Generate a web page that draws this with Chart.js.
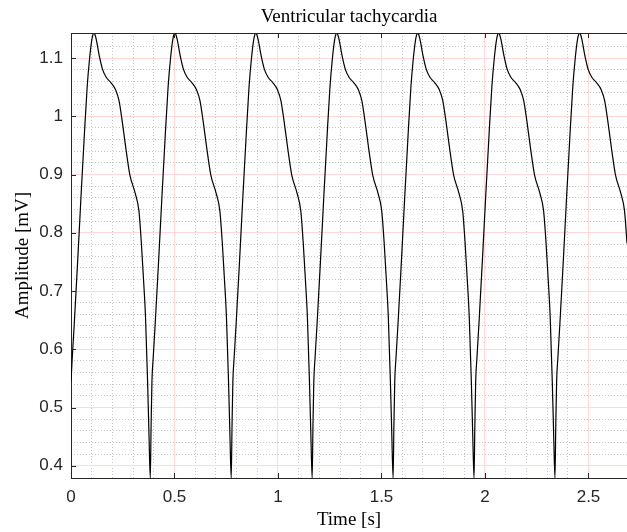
<!DOCTYPE html>
<html>
<head>
  <title>Ventricular tachycardia</title>
  <script src="https://cdn.jsdelivr.net/npm/chart.js"></script>
  <style>
    body {
      margin: 0;
      background: #fff;
    }
  </style>
</head>
<body>
  <canvas id="ecgChart" width="627" height="532"></canvas>

  <script>
    // Time [s], one line per beat
    const time = [
      0.000, 0.006, 0.016, 0.032, 0.048, 0.064, 0.078, 0.090, 0.100, 0.106, 0.111, 0.116, 0.122, 0.136, 0.152, 0.170, 0.192, 0.216, 0.232, 0.248, 0.265, 0.284, 0.310, 0.328, 0.340, 0.350, 0.360, 0.370, 0.377,
      0.383, 0.387, 0.391, 0.397, 0.407, 0.423, 0.439, 0.455, 0.469, 0.481, 0.491, 0.497, 0.502, 0.507, 0.513, 0.527, 0.543, 0.561, 0.583, 0.607, 0.623, 0.639, 0.656, 0.675, 0.701, 0.719, 0.731, 0.741, 0.751, 0.761, 0.768,
      0.774, 0.778, 0.782, 0.788, 0.798, 0.814, 0.830, 0.846, 0.860, 0.872, 0.882, 0.888, 0.893, 0.898, 0.904, 0.918, 0.934, 0.952, 0.974, 0.998, 1.014, 1.030, 1.047, 1.066, 1.092, 1.110, 1.122, 1.132, 1.142, 1.152, 1.159,
      1.165, 1.169, 1.173, 1.179, 1.189, 1.205, 1.221, 1.237, 1.251, 1.263, 1.273, 1.279, 1.284, 1.289, 1.295, 1.309, 1.325, 1.343, 1.365, 1.389, 1.405, 1.421, 1.438, 1.457, 1.483, 1.501, 1.513, 1.523, 1.533, 1.543, 1.550,
      1.556, 1.560, 1.564, 1.570, 1.580, 1.596, 1.612, 1.628, 1.642, 1.654, 1.664, 1.670, 1.675, 1.680, 1.686, 1.700, 1.716, 1.734, 1.756, 1.780, 1.796, 1.812, 1.829, 1.848, 1.874, 1.892, 1.904, 1.914, 1.924, 1.934, 1.941,
      1.947, 1.951, 1.955, 1.961, 1.971, 1.987, 2.003, 2.019, 2.033, 2.045, 2.055, 2.061, 2.066, 2.071, 2.077, 2.091, 2.107, 2.125, 2.147, 2.171, 2.187, 2.203, 2.220, 2.239, 2.265, 2.283, 2.295, 2.305, 2.315, 2.325, 2.332,
      2.338, 2.342, 2.346, 2.352, 2.362, 2.378, 2.394, 2.410, 2.424, 2.436, 2.446, 2.452, 2.457, 2.462, 2.468, 2.482, 2.498, 2.516, 2.538, 2.562, 2.578, 2.594, 2.611, 2.630, 2.656, 2.674, 2.686
    ];

    // Amplitude [mV], same layout as time
    const amplitude = [
      0.545, 0.585, 0.645, 0.750, 0.860, 0.965, 1.050, 1.100, 1.130, 1.140, 1.143, 1.140, 1.132, 1.105, 1.081, 1.067, 1.058, 1.045, 1.027, 0.990, 0.945, 0.900, 0.868, 0.838, 0.782, 0.722, 0.655, 0.545, 0.450,
      0.379, 0.470, 0.545, 0.585, 0.645, 0.750, 0.860, 0.965, 1.050, 1.100, 1.130, 1.140, 1.143, 1.140, 1.132, 1.105, 1.081, 1.067, 1.058, 1.045, 1.027, 0.990, 0.945, 0.900, 0.868, 0.838, 0.782, 0.722, 0.655, 0.545, 0.450,
      0.379, 0.470, 0.545, 0.585, 0.645, 0.750, 0.860, 0.965, 1.050, 1.100, 1.130, 1.140, 1.143, 1.140, 1.132, 1.105, 1.081, 1.067, 1.058, 1.045, 1.027, 0.990, 0.945, 0.900, 0.868, 0.838, 0.782, 0.722, 0.655, 0.545, 0.450,
      0.379, 0.470, 0.545, 0.585, 0.645, 0.750, 0.860, 0.965, 1.050, 1.100, 1.130, 1.140, 1.143, 1.140, 1.132, 1.105, 1.081, 1.067, 1.058, 1.045, 1.027, 0.990, 0.945, 0.900, 0.868, 0.838, 0.782, 0.722, 0.655, 0.545, 0.450,
      0.379, 0.470, 0.545, 0.585, 0.645, 0.750, 0.860, 0.965, 1.050, 1.100, 1.130, 1.140, 1.143, 1.140, 1.132, 1.105, 1.081, 1.067, 1.058, 1.045, 1.027, 0.990, 0.945, 0.900, 0.868, 0.838, 0.782, 0.722, 0.655, 0.545, 0.450,
      0.379, 0.470, 0.545, 0.585, 0.645, 0.750, 0.860, 0.965, 1.050, 1.100, 1.130, 1.140, 1.143, 1.140, 1.132, 1.105, 1.081, 1.067, 1.058, 1.045, 1.027, 0.990, 0.945, 0.900, 0.868, 0.838, 0.782, 0.722, 0.655, 0.545, 0.450,
      0.379, 0.470, 0.545, 0.585, 0.645, 0.750, 0.860, 0.965, 1.050, 1.100, 1.130, 1.140, 1.143, 1.140, 1.132, 1.105, 1.081, 1.067, 1.058, 1.045, 1.027, 0.990, 0.945, 0.900, 0.868, 0.838, 0.782
    ];

    const xTicks = [0, 0.5, 1, 1.5, 2, 2.5];
    const yTicks = [0.4, 0.5, 0.6, 0.7, 0.8, 0.9, 1, 1.1];
    const xRange = [0, 2.686];
    const yRange = [0.379, 1.143];
    const xMinorStep = 0.1;
    const yMinorStep = 0.02;

    const axisColor = "#262626";
    const majorGrid = "#ffd9d9";
    const minorGrid = "#c4c4c4";
    const sansFont = { family: "Liberation Sans", size: 17 };
    const serifFont = { family: "Liberation Serif", size: 19 };

    const fmt = v => String(Math.round(v * 100) / 100);

    // keep only multiples of the step (drops the min/max bound ticks)
    function onStep(step) {
      return scale => {
        scale.ticks = scale.ticks.filter(t => {
          const k = t.value / step;
          return Math.abs(k - Math.round(k)) < 1e-6;
        });
      };
    }

    // box top edge and inward tick marks
    const frame = {
      id: "frame",
      afterDraw(chart) {
        const { ctx, chartArea: a, scales } = chart;
        ctx.save();
        ctx.setLineDash([]);
        ctx.strokeStyle = axisColor;
        ctx.lineWidth = 1;
        ctx.beginPath();
        ctx.moveTo(a.left, a.top + 0.5);
        ctx.lineTo(a.right, a.top + 0.5);
        xTicks.forEach(v => {
          const px = Math.round(scales.x.getPixelForValue(v)) + 0.5;
          ctx.moveTo(px, a.bottom);
          ctx.lineTo(px, a.bottom - 5);
          ctx.moveTo(px, a.top);
          ctx.lineTo(px, a.top + 5);
        });
        yTicks.forEach(v => {
          const py = Math.round(scales.y.getPixelForValue(v)) + 0.5;
          ctx.moveTo(a.left, py);
          ctx.lineTo(a.left + 5, py);
        });
        ctx.stroke();
        ctx.restore();
      }
    };

    const ctx = document.getElementById("ecgChart").getContext("2d");
    new Chart(ctx, {
      type: "line",
      data: {
        datasets: [{
          data: time.map((t, i) => ({ x: t, y: amplitude[i] })),
          borderColor: "#000",
          borderWidth: 1.2,
          pointRadius: 0,
          fill: false,
          cubicInterpolationMode: "monotone"
        }]
      },
      options: {
        responsive: false,
        animation: false,
        devicePixelRatio: 1,
        layout: { padding: 0 },
        plugins: {
          legend: { display: false },
          tooltip: { enabled: false },
          title: {
            display: true,
            fullSize: false,
            text: "Ventricular tachycardia",
            color: "#000",
            font: { ...serifFont, weight: "normal" },
            padding: { top: 6, bottom: 4.2 }
          }
        },
        scales: {
          xMinor: {
            type: "linear",
            position: "bottom",
            min: xRange[0],
            max: xRange[1],
            afterBuildTicks: onStep(xMinorStep),
            afterFit: s => { s.height = 0; },
            ticks: { display: false, stepSize: xMinorStep },
            grid: { color: minorGrid, drawTicks: false, z: -3 },
            border: { display: false, dash: [1, 2] }
          },
          yMinor: {
            type: "linear",
            position: "left",
            min: yRange[0],
            max: yRange[1],
            afterBuildTicks: onStep(yMinorStep),
            afterFit: s => { s.width = 0; },
            ticks: { display: false, stepSize: yMinorStep },
            grid: { color: minorGrid, drawTicks: false, z: -3 },
            border: { display: false, dash: [1, 2] }
          },
          x: {
            type: "linear",
            position: "bottom",
            min: xRange[0],
            max: xRange[1],
            afterBuildTicks: s => { s.ticks = xTicks.map(value => ({ value })); },
            afterFit: s => { s.height = 54; },
            grid: { color: majorGrid, drawTicks: false, z: -1 },
            border: { color: axisColor, width: 1 },
            ticks: { color: axisColor, font: sansFont, padding: 9, maxRotation: 0, callback: fmt },
            title: {
              display: true,
              text: "Time [s]",
              color: "#000",
              font: serifFont,
              padding: { top: 0, bottom: 1 }
            }
          },
          y: {
            type: "linear",
            position: "left",
            min: yRange[0],
            max: yRange[1],
            afterBuildTicks: s => { s.ticks = yTicks.map(value => ({ value })); },
            afterFit: s => { s.width = 71; },
            grid: { color: majorGrid, drawTicks: false, z: -1 },
            border: { color: axisColor, width: 1 },
            ticks: { color: axisColor, font: sansFont, padding: 8, callback: fmt },
            title: {
              display: true,
              text: "Amplitude [mV]",
              color: "#000",
              font: serifFont,
              padding: { top: 11.6, bottom: 0 }
            }
          }
        }
      },
      plugins: [frame]
    });
  </script>
</body>
</html>
